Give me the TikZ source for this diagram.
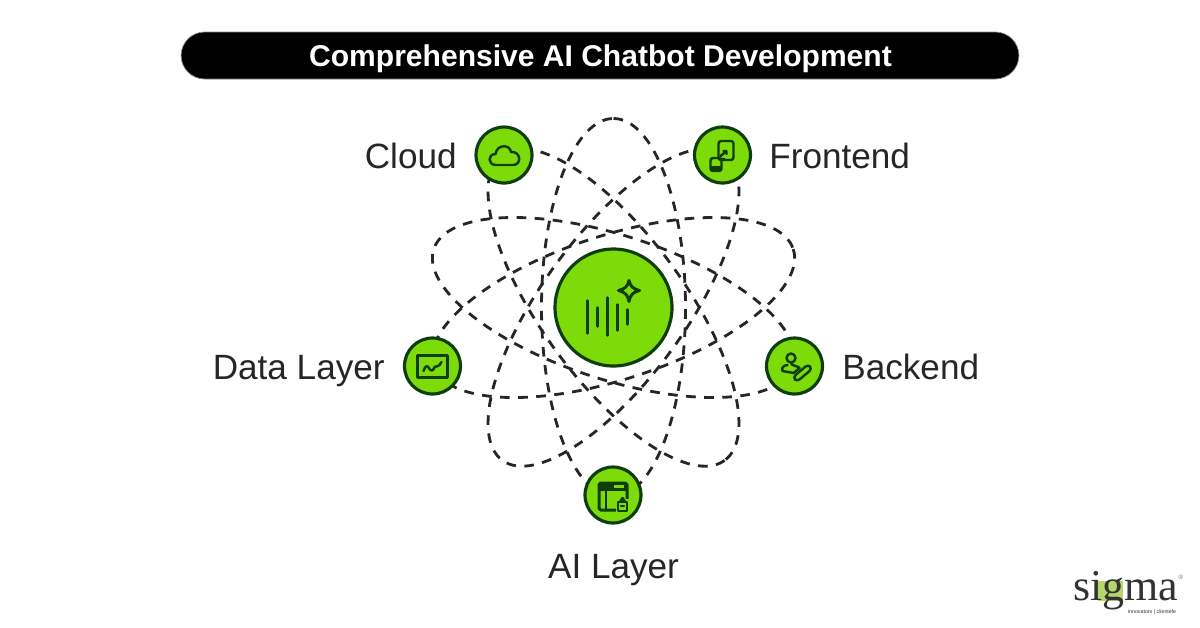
\documentclass[tikz,border=0pt]{standalone}
\usepackage{fontspec}
\setmainfont{Liberation Sans}
\newfontfamily\logofont{Liberation Serif}
\definecolor{leaf}{HTML}{7EDB0A}
\definecolor{leafdark}{HTML}{0F3D0C}
\definecolor{logoink}{HTML}{333333}
\definecolor{logoleaf}{HTML}{B5D66A}
\tikzset{
  orbit/.style={dash pattern=on 5.5pt off 4.8pt,line width=1.6pt,black!85},
  hub/.style={shape=circle,draw=leafdark,fill=leaf,line width=1.8pt,inner sep=0pt},
  sat/.style={hub,minimum size=1.12cm},
  lbl/.style={inner sep=0pt,font=\fontsize{20}{24}\selectfont,text=black!85},
  glyph/.style={draw=leafdark,line width=1.4pt,line join=round,line cap=round}
}

\begin{document}
\begin{tikzpicture}[x=0.02cm,y=-0.02cm]
\useasboundingbox (0,0) rectangle (1200,627);
% title
\node[shape=rectangle,rounded corners=0.47cm,fill=black,draw=black!45,line width=0.4pt,
  minimum width=16.76cm,minimum height=0.94cm,inner sep=0pt] (bar) at (600,55.5) {};
\node[inner sep=0pt,anchor=base,text=white,font=\fontsize{17.1}{22}\selectfont\bfseries] (title) at (600.5,66)
  {Comprehensive AI Chatbot Development};
% orbits
\foreach \ang in {90,18,-54,54,-18}
  \draw[orbit] (613.5,307.5) ellipse [x radius=189,y radius=72,rotate=\ang];
% hubs
\node[hub,minimum size=2.34cm] (core) at (613.5,307.5) {};
\node[sat] (cloud) at (504,155) {};
\node[sat] (front) at (722.5,155) {};
\node[sat] (data) at (432.5,366) {};
\node[sat] (back) at (794.5,366) {};
\node[sat] (ailayer) at (613,495) {};
% labels
\node[lbl,anchor=base east] (cloudtxt) at (457,168) {Cloud};
\node[lbl,anchor=base west] (fronttxt) at (769,168) {Frontend};
\node[lbl,anchor=base east] (datatxt) at (385,379) {Data Layer};
\node[lbl,anchor=base west] (backtxt) at (842,379) {Backend};
\node[lbl,anchor=base] (aitxt) at (613.5,578) {AI Layer};
% core glyph
\begin{scope}[shift={(core.center)}]
  \draw[glyph] (-26,-7) -- (-26,26) (-16,0) -- (-16,19) (-6,-10) -- (-6,28)
    (4,-3) -- (4,23) (14,2) -- (14,17);
  \draw[glyph,line width=1.7pt] (15.5,-27) .. controls (17,-21) and (19,-19) .. (26,-17)
    .. controls (19,-15) and (17,-13) .. (15.5,-6)
    .. controls (14,-13) and (12,-15) .. (5,-17)
    .. controls (12,-19) and (14,-21) .. (15.5,-27) -- cycle;
\end{scope}
% cloud glyph
\begin{scope}[shift={(cloud.center)}]
  \draw[glyph] (-8,10) .. controls (-16.5,10) and (-16.5,-1) .. (-8.5,-1)
    .. controls (-7,-11) and (6,-11) .. (7,-3)
    .. controls (17,-4) and (18,10) .. (9,10) -- cycle;
\end{scope}
% frontend glyph
\begin{scope}[shift={(front.center)}]
  \draw[glyph,rounded corners=1.5pt] (-4,-14) rectangle (11,5);
  \draw[glyph,rounded corners=1.5pt] (-12,3) rectangle (-1,16);
  \fill[leafdark] (-12,11) rectangle (-1,16);
  \draw[glyph] (-2,1) -- (3,-3) (1,-4) -- (4,-4) -- (4,-1) (-3,4) -- (2,4);
\end{scope}
% data glyph
\begin{scope}[shift={(data.center)}]
  \draw[glyph,line width=1.7pt] (-15,-11) rectangle (15,11);
  \draw[glyph] (-9,5) .. controls (-7,-1) and (-5,-1) .. (-3,3)
    .. controls (-1,6) and (1,4) .. (2,1) .. controls (3,-1) and (5,3) .. (9,-4);
\end{scope}
% backend glyph
\begin{scope}[shift={(back.center)}]
  \draw[glyph] (-3.5,-8) circle (4.5);
  \draw[glyph] (-3.5,-3) .. controls (-3,0) and (4,0) .. (5,2) -- (-1,7) -- (-12,5)
    .. controls (-14,1) and (-9,-1) .. (-7,-1);
  \draw[glyph,rounded corners=2pt,rotate around={40:(8,7)}] (-2,4) rectangle (18,10);
\end{scope}
% ai glyph
\begin{scope}[shift={(ailayer.center)}]
  \draw[glyph,line width=1.7pt,rounded corners=1pt] (-14,-12) rectangle (14,15);
  \fill[leafdark] (-14,-12) rectangle (14,-4);
  \fill[leaf] (1,-10) rectangle (11,-7);
  \draw[glyph] (-7,-4) -- (-7,15);
  \fill[leaf] (3,4) rectangle (16,17);
  \draw[glyph] (5,7) rectangle (14,16);
  \draw[glyph] (7,7) -- (9.5,3) -- (12,7);
  \draw[glyph] (8,11) -- (11,11);
\end{scope}
% logo
\fill[logoleaf] (1098,581) rectangle (1123,601);
\node[inner sep=0pt,anchor=base,text depth=0pt,text=logoink,font=\logofont\fontsize{25}{26}\selectfont] (logo) at (1126,600) {sigma};
\node[inner sep=0pt,text=logoink,font=\fontsize{3}{3.5}\selectfont] (tagline) at (1152,612.5) {innovators | clientele};
\node[inner sep=0pt,text=logoink!70,font=\fontsize{3.5}{4}\selectfont] (regmark) at (1181,577) {®};
\end{tikzpicture}
\end{document}
